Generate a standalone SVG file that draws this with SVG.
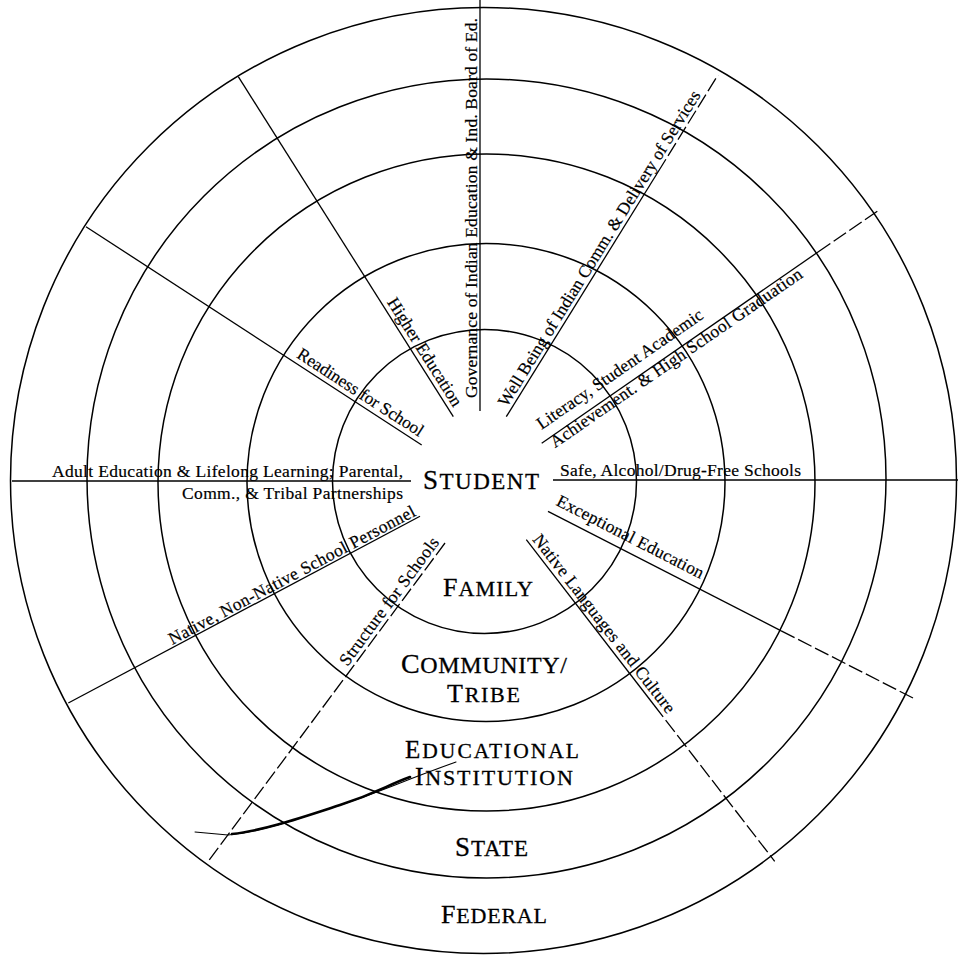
<svg xmlns="http://www.w3.org/2000/svg" width="958" height="957" viewBox="0 0 958 957">
<style>
  .ring{fill:none;stroke:#000;stroke-width:1.5}
  .spoke{fill:none;stroke:#000;stroke-width:1.3}
  .dash{stroke-dasharray:15 4}
  .lbl{font-family:"Liberation Serif","Times New Roman",serif;font-size:17.5px;fill:#000;stroke:#000;stroke-width:0.2}
  .cap{font-family:"Liberation Serif","Times New Roman",serif;fill:#000;stroke:#000;stroke-width:0.3}
</style>
<rect width="958" height="957" fill="#fff"/>
<g id="rings">
  <g id="ring-federal"><circle class="ring" cx="483.5" cy="480.5" r="473"/>
    <text class="cap" x="441" y="923" textLength="106" lengthAdjust="spacing"><tspan font-size="26">F</tspan><tspan font-size="22">EDERAL</tspan></text></g>
  <g id="ring-state"><circle class="ring" cx="486.5" cy="478.5" r="399.5"/>
    <text class="cap" x="455" y="856" textLength="73" lengthAdjust="spacing"><tspan font-size="27">S</tspan><tspan font-size="23">TATE</tspan></text></g>
  <g id="ring-institution"><circle class="ring" cx="486.5" cy="482.5" r="328.5"/>
    <text class="cap" x="405" y="758" textLength="174" lengthAdjust="spacing"><tspan font-size="25">E</tspan><tspan font-size="21.5">DUCATIONAL</tspan></text>
    <text class="cap" x="415" y="785" textLength="158" lengthAdjust="spacing"><tspan font-size="25">I</tspan><tspan font-size="22">NSTITUTION</tspan></text></g>
  <g id="ring-community"><circle class="ring" cx="486" cy="482.5" r="239"/>
    <text class="cap" x="401" y="673" textLength="166" lengthAdjust="spacing"><tspan font-size="28">C</tspan><tspan font-size="24">OMMUNITY/</tspan></text>
    <text class="cap" x="447" y="702" textLength="73" lengthAdjust="spacing"><tspan font-size="26">T</tspan><tspan font-size="22">RIBE</tspan></text></g>
  <g id="ring-family"><circle class="ring" cx="484.5" cy="481.5" r="152"/>
    <text class="cap" x="443" y="596" textLength="90" lengthAdjust="spacing"><tspan font-size="26">F</tspan><tspan font-size="22">AMILY</tspan></text></g>
  <g id="student">
    <text class="cap" x="423" y="489" textLength="116" lengthAdjust="spacing"><tspan font-size="27">S</tspan><tspan font-size="23">TUDENT</tspan></text></g>
</g>
<g id="connectors">
  <g id="spoke-governance">
    <line class="spoke" x1="480" y1="0" x2="480" y2="411"/>
    <text class="lbl" transform="translate(477,398) rotate(-90)" textLength="380" lengthAdjust="spacing">Governance of Indian Education &amp; Ind. Board of Ed.</text>
  </g>
  <g id="spoke-wellbeing">
    <line class="spoke" x1="506.3" y1="416.7" x2="658" y2="172"/>
    <line class="spoke dash" x1="658" y1="172" x2="718" y2="75"/>
    <text class="lbl" transform="translate(507.1,407.8) rotate(-58.2)" textLength="368" lengthAdjust="spacing">Well Being of Indian Comm. &amp; Delivery of Services</text>
  </g>
  <g id="spoke-literacy">
    <line class="spoke" x1="541.7" y1="443.3" x2="818" y2="252"/>
    <line class="spoke dash" x1="818" y1="252" x2="878" y2="210.7"/>
    <text class="lbl" transform="translate(541.5,430) rotate(-34.6)" textLength="198" lengthAdjust="spacing">Literacy, Student Academic</text>
    <text class="lbl" transform="translate(555,448.3) rotate(-34.6)" textLength="302" lengthAdjust="spacing">Achievement. &amp; High School Graduation</text>
  </g>
  <g id="spoke-safe">
    <line class="spoke" x1="553" y1="480" x2="958" y2="480"/>
    <text class="lbl" x="560" y="476" textLength="241" lengthAdjust="spacing">Safe, Alcohol/Drug-Free Schools</text>
  </g>
  <g id="spoke-exceptional">
    <line class="spoke" x1="548" y1="511.3" x2="781.2" y2="630.8"/>
    <line class="spoke dash" x1="781.2" y1="630.8" x2="913" y2="698"/>
    <text class="lbl" transform="translate(555.3,504.7) rotate(27.1)" textLength="163" lengthAdjust="spacing">Exceptional Education</text>
  </g>
  <g id="spoke-languages">
    <line class="spoke" x1="526.3" y1="539.7" x2="654" y2="705"/>
    <line class="spoke dash" x1="654" y1="705" x2="774.7" y2="861.3"/>
    <text class="lbl" transform="translate(532,539.7) rotate(52.3)" textLength="221" lengthAdjust="spacing">Native Languages and Culture</text>
  </g>
  <g id="spoke-structure">
    <line class="spoke dash" x1="445" y1="543" x2="208.3" y2="861.3"/>
    <text class="lbl" transform="translate(347.4,666.9) rotate(-53.4)" textLength="155" lengthAdjust="spacing">Structure for Schools</text>
  </g>
  <g id="spoke-personnel">
    <line class="spoke" x1="420" y1="516.3" x2="68.3" y2="703"/>
    <text class="lbl" transform="translate(172.2,645) rotate(-27.96)" textLength="277" lengthAdjust="spacing">Native, Non-Native School Personnel</text>
  </g>
  <g id="spoke-adult">
    <line class="spoke" x1="12" y1="481" x2="411" y2="481"/>
    <text class="lbl" x="52" y="477" textLength="351" lengthAdjust="spacing">Adult Education &amp; Lifelong Learning; Parental,</text>
    <text class="lbl" x="182" y="499" textLength="221" lengthAdjust="spacing">Comm., &amp; Tribal Partnerships</text>
  </g>
  <g id="spoke-readiness">
    <line class="spoke" x1="86" y1="226.7" x2="421.7" y2="445"/>
    <text class="lbl" transform="translate(295.7,357.1) rotate(33)" textLength="147" lengthAdjust="spacing">Readiness for School</text>
  </g>
  <g id="spoke-higher">
    <line class="spoke" x1="238.3" y1="76.7" x2="453.3" y2="416.7"/>
    <text class="lbl" transform="translate(386.7,302.2) rotate(57.7)" textLength="125" lengthAdjust="spacing">Higher Education</text>
  </g>
</g>
<g id="scribble" fill="none" stroke="#000" stroke-linecap="round">
  <path d="M195,832 L228,835 C262,832 300,818 340,805 S400,782 456,762" stroke-width="1.1"/>
  <path d="M232,834 C262,831 300,818 340,805 S385,786 410,777" stroke-width="2.6"/>
</g>
</svg>
